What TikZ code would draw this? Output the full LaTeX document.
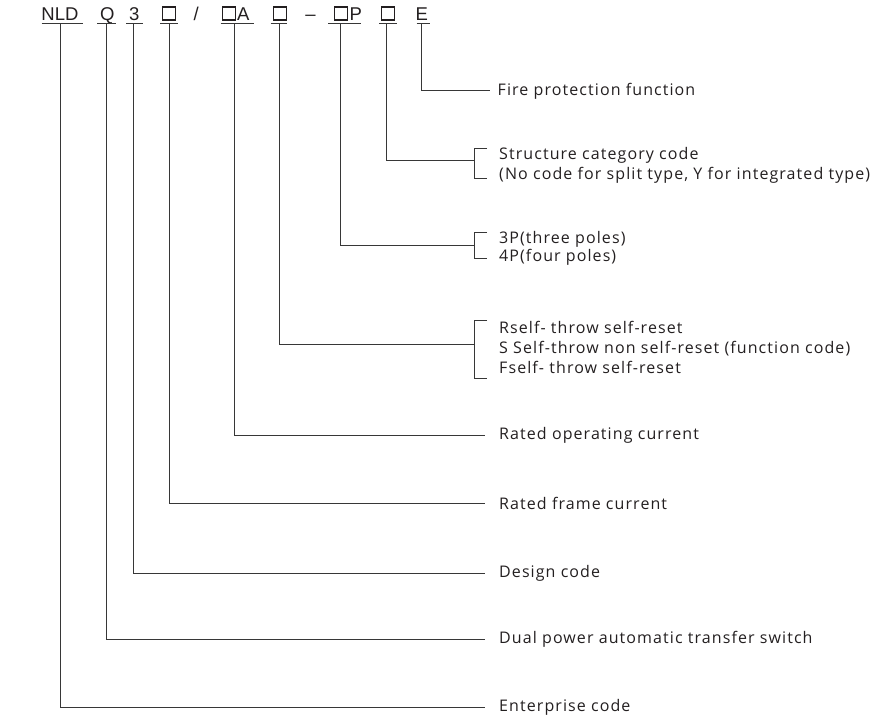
\documentclass[tikz,border=0pt]{standalone}
\usepackage{fontspec}
\setmainfont{Open Sans}[LetterSpace=6.8]
\newfontfamily\codefont{Liberation Sans}
\definecolor{linegray}{RGB}{55,55,55}
\definecolor{textgray}{RGB}{35,31,32}
\tikzset{
  conn/.style={draw=linegray, line width=0.9pt},
  codelbl/.style={anchor=base west, inner sep=0pt, text=textgray, font=\codefont\fontsize{18.5}{20}\selectfont},
  codebox/.style={draw=textgray, line width=1.1pt},
  desc/.style={anchor=west, inner sep=0pt, text=textgray, align=left, font=\fontsize{16}{20}\selectfont},
}
\begin{document}
\begin{tikzpicture}[x=1pt,y=-1pt]
\useasboundingbox (0,0) rectangle (878,723);
% ---- code letters
\node[codelbl] (nld) at (41.2,20) {NLD};
\node[codelbl] (q) at (100,20) {Q};
\node[codelbl] (three) at (129,20) {3};
\node[codelbl] (slash) at (193.5,20) {/};
\node[codelbl] (a) at (237,20) {A};
\node[codelbl,anchor=base] (dash) at (310.5,20) {–};
\node[codelbl] (p) at (349.3,20) {P};
\node[codelbl] (e) at (415.5,20) {E};
% ---- boxes
\draw[codebox] (162.2,7) rectangle (175.2,20);
\draw[codebox] (222.2,7) rectangle (235.2,20);
\draw[codebox] (273.2,7) rectangle (286.2,20);
\draw[codebox] (334.7,7) rectangle (347.7,20);
\draw[codebox] (381.2,7) rectangle (394.2,20);
% ---- underlines
\draw[conn] (41.7,23.3) -- (82.7,23.3);
\draw[conn] (97,23.3) -- (116,23.3);
\draw[conn] (126,23.3) -- (143,23.3);
\draw[conn] (160,23.3) -- (178,23.3);
\draw[conn] (220.5,23.3) -- (253.5,23.3);
\draw[conn] (270.7,23.3) -- (287.3,23.3);
\draw[conn] (328.3,23.3) -- (360.5,23.3);
\draw[conn] (379,23.3) -- (396.7,23.3);
\draw[conn] (416.7,23.3) -- (430,23.3);
% ---- top coordinates of the leader lines
\coordinate (vNLD) at (60,23.3);
\coordinate (vQ) at (106.7,23.3);
\coordinate (v3) at (133.3,23.3);
\coordinate (vFrame) at (169.3,23.3);
\coordinate (vA) at (234,23.3);
\coordinate (vFunc) at (279.3,23.3);
\coordinate (vP) at (340.7,23.3);
\coordinate (vStruct) at (386.7,23.3);
\coordinate (vE) at (421.5,23.3);
% ---- descriptions
\node[desc] (dE) at (497.5,91) {Fire protection function};
\node[desc] (dStruct) at (499,165) {Structure category code\\(No code for split type, Y for integrated type)};
\node[desc,font=\fontsize{16}{18}\selectfont] (dP) at (499,248) {3P(three poles)\\4P(four poles)};
\node[desc] (dFunc) at (499,347.5) {Rself- throw self-reset\\S Self-throw non self-reset (function code)\\Fself- throw self-reset};
\node[desc] (dA) at (499,435) {Rated operating current};
\node[desc] (dFrame) at (499,503.5) {Rated frame current};
\node[desc] (d3) at (499,573) {Design code};
\node[desc] (dQ) at (499,639) {Dual power automatic transfer switch};
\node[desc] (dNLD) at (499,707.5) {Enterprise code};
% ---- line ends
\coordinate (eE) at (490,90);
\coordinate (eStruct) at (474.3,160);
\coordinate (eP) at (474.3,245);
\coordinate (eFunc) at (474.3,344.5);
\coordinate (eA) at (485,435);
\coordinate (eFrame) at (485,503);
\coordinate (e3) at (485,573);
\coordinate (eQ) at (485,639);
\coordinate (eNLD) at (485,707);
% ---- leader lines
\draw[conn] (vE) |- (eE);
\draw[conn] (vStruct) |- (eStruct);
\draw[conn] (vP) |- (eP);
\draw[conn] (vFunc) |- (eFunc);
\draw[conn] (vA) |- (eA);
\draw[conn] (vFrame) |- (eFrame);
\draw[conn] (v3) |- (e3);
\draw[conn] (vQ) |- (eQ);
\draw[conn] (vNLD) |- (eNLD);
% ---- brackets
\draw[conn] (487,148) -- (474.3,148) -- (474.3,178) -- (487,178);
\draw[conn] (487,232) -- (474.3,232) -- (474.3,258) -- (487,258);
\draw[conn] (487,320) -- (474.3,320) -- (474.3,378) -- (487,378);
\end{tikzpicture}
\end{document}
